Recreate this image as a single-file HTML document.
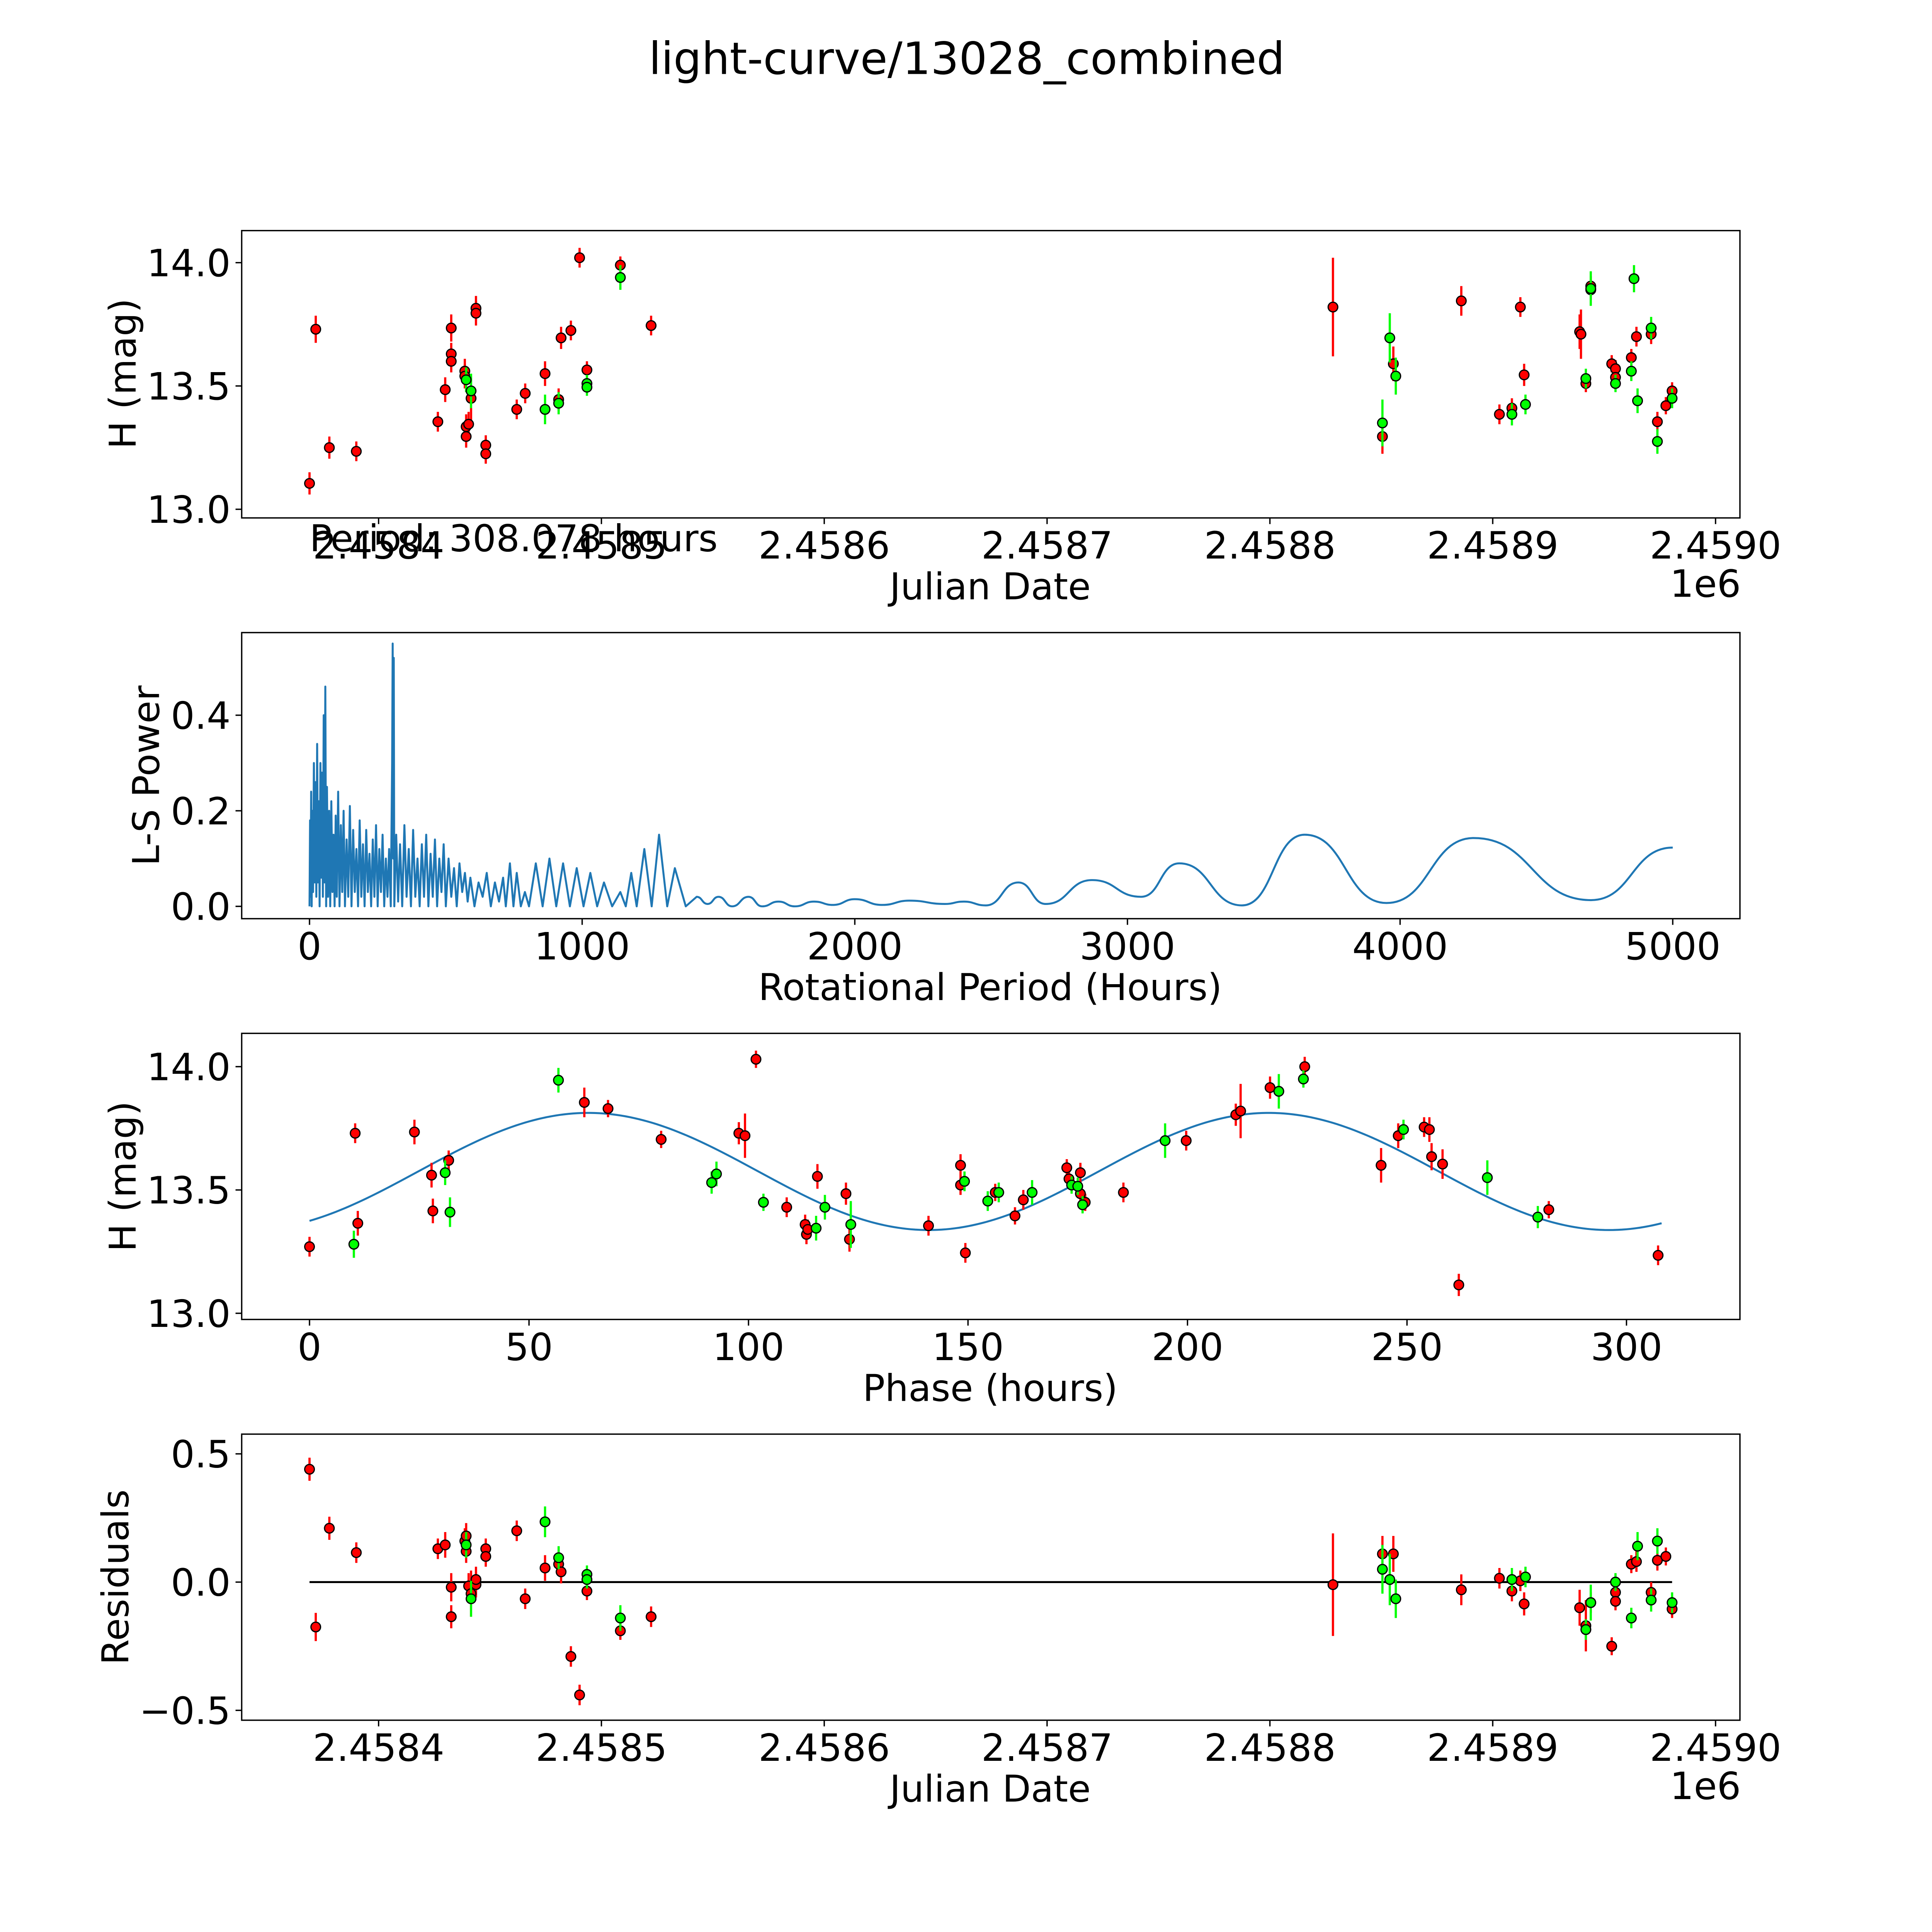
<!DOCTYPE html>
<html><head><meta charset="utf-8"><style>
html,body{margin:0;padding:0;background:#fff;overflow:hidden;}
svg{display:block;position:absolute;left:0;top:0;width:5004px;height:5004px;font-family:"DejaVu Sans","Liberation Sans",sans-serif;}
</style></head><body>
<svg id="fig" xmlns="http://www.w3.org/2000/svg" width="5004" height="5004" viewBox="0 0 1568 1568" preserveAspectRatio="none">
<rect width="1568" height="1568" fill="#fff"/>
<text x="784" y="60" font-size="36" text-anchor="middle">light-curve/13028_combined</text>
</svg>
<script>
// ---------- DATA ----------
const JD0 = 2458369;
// panel 1: [day offset from JD0, mag, err]
const lcRed = [[0,13.105,0.045],[2.8,13.73,0.055],[8.9,13.25,0.045],[21.0,13.235,0.04],[57.6,13.355,0.04],[60.9,13.485,0.05],[63.6,13.735,0.055],[63.6,13.63,0.045],[63.6,13.6,0.045],[69.7,13.56,0.05],[69.7,13.54,0.05],[70.3,13.335,0.05],[70.3,13.295,0.045],[71.4,13.345,0.05],[72.5,13.45,0.09],[74.7,13.815,0.05],[74.7,13.795,0.05],[79.1,13.26,0.04],[79.1,13.225,0.04],[93.0,13.405,0.04],[96.8,13.47,0.04],[105.7,13.55,0.05],[111.8,13.445,0.045],[112.9,13.695,0.045],[117.3,13.725,0.04],[121.2,14.02,0.04],[124.5,13.565,0.035],[139.5,13.99,0.035],[153.3,13.745,0.04],
[459.3,13.82,0.2],[481.5,13.295,0.07],[486.4,13.59,0.07],[516.9,13.845,0.06],[534.0,13.385,0.04],[539.6,13.41,0.04],[543.4,13.82,0.04],[545.1,13.545,0.045],[570.0,13.72,0.07],[570.6,13.71,0.1],[572.8,13.51,0.035],[575.0,13.905,0.04],[575.0,13.89,0.04],[584.4,13.59,0.035],[586.1,13.57,0.035],[586.1,13.535,0.035],[593.2,13.615,0.035],[595.5,13.7,0.04],[602.1,13.71,0.04],[604.9,13.355,0.04],[608.7,13.42,0.035],[611.5,13.48,0.035]];
const lcGreen = [[70.3,13.525,0.05],[72.5,13.48,0.07],[105.7,13.405,0.06],[111.8,13.43,0.045],[124.5,13.51,0.035],[124.5,13.495,0.035],[139.5,13.94,0.05],[481.5,13.35,0.095],[484.8,13.695,0.1],[487.5,13.54,0.075],[539.6,13.385,0.045],[545.7,13.425,0.04],[572.8,13.53,0.04],[575.0,13.895,0.07],[586.1,13.51,0.035],[593.2,13.56,0.04],[594.4,13.935,0.055],[596.0,13.44,0.05],[602.1,13.735,0.045],[604.9,13.275,0.05],[611.5,13.45,0.04]];
// panel 2: periodogram
const lsPeriod = [0,2,4,6,8,10,13,16,19,22,25,28,31,34,37,40,43,46,49,52,55,58,61,64,68,72,76,80,84,88,92,96,100,105,110,115,120,125,130,136,142,148,154,160,166,172,178,184,190,196,202,208,214,220,226,232,238,244,250,256,262,268,274,280,286,292,298,303,305,307,309,311,318,325,332,340,348,356,364,372,380,388,396,404,412,420,428,436,444,452,460,468,476,484,492,500,510,520,530,540,550,560,570,580,590,605,620,635,650,665,680,695,710,720,735,748,760,775,790,805,830,855,880,905,930,955,980,1005,1030,1055,1080,1110,1140,1160,1180,1200,1228,1255,1282,1312,1340,1380,1420];
const lsPower = [0,0.18,0.02,0.24,0.0,0.2,0.03,0.3,0.05,0.26,0.02,0.34,0.05,0.22,0.0,0.3,0.06,0.28,0.02,0.4,0.05,0.46,0.0,0.25,0.02,0.2,0.0,0.22,0.03,0.15,0.0,0.19,0.02,0.24,0.0,0.17,0.03,0.2,0.0,0.14,0.02,0.21,0.0,0.16,0.03,0.12,0.0,0.18,0.02,0.13,0.0,0.16,0.03,0.11,0.0,0.14,0.02,0.17,0.0,0.12,0.03,0.15,0.0,0.1,0.02,0.12,0.0,0.3,0.55,0.1,0.52,0.0,0.15,0.01,0.13,0.0,0.17,0.02,0.12,0.0,0.16,0.02,0.1,0.0,0.13,0.02,0.15,0.0,0.11,0.02,0.14,0.0,0.1,0.03,0.13,0.0,0.1,0.02,0.08,0.0,0.09,0.03,0.07,0.01,0.06,0.0,0.05,0.02,0.07,0.0,0.05,0.01,0.06,0.0,0.09,0.0,0.07,0.0,0.03,0.0,0.09,0.0,0.1,0.0,0.09,0.0,0.08,0.0,0.07,0.0,0.05,0.0,0.03,0.0,0.07,0.0,0.12,0.0,0.15,0.0,0.08,0.0,0.02];
const lsSmoothPeriod = [1420,1460,1500,1550,1610,1660,1720,1780,1850,1920,2000,2100,2200,2330,2400,2480,2600,2700,2870,3050,3190,3420,3650,3950,4270,4700,5000];
const lsSmoothPower = [0.02,0.005,0.02,0.0,0.02,0.0,0.01,0.0,0.01,0.003,0.015,0.003,0.012,0.005,0.01,0.002,0.05,0.005,0.055,0.02,0.09,0.002,0.15,0.007,0.143,0.013,0.123];
// panel 3: [phase hours, mag, err]
const phRed = [[0,13.27,0.04],[10.4,13.73,0.04],[11.0,13.365,0.05],[23.9,13.735,0.05],[27.8,13.56,0.05],[28.1,13.415,0.05],[31.7,13.62,0.04],[62.6,13.855,0.06],[68.0,13.83,0.035],[80.1,13.705,0.035],[97.8,13.73,0.045],[99.2,13.72,0.09],[101.7,14.03,0.035],[108.7,13.43,0.04],[112.9,13.36,0.04],[113.2,13.32,0.04],[113.5,13.34,0.04],[115.7,13.555,0.05],[122.2,13.485,0.045],[123.0,13.3,0.05],[141.0,13.355,0.04],[148.3,13.6,0.045],[148.3,13.52,0.04],[149.4,13.245,0.04],[156.2,13.49,0.035],[160.7,13.395,0.035],[162.6,13.46,0.04],[172.5,13.59,0.035],[173.0,13.545,0.035],[175.6,13.57,0.04],[175.6,13.485,0.035],[176.7,13.45,0.035],[185.4,13.49,0.04],[199.7,13.7,0.04],[211.0,13.805,0.045],[212.1,13.82,0.11],[218.8,13.915,0.045],[226.7,14.0,0.04],[244.1,13.6,0.07],[248.0,13.72,0.05],[253.9,13.755,0.04],[255.1,13.745,0.05],[255.6,13.635,0.055],[258.1,13.605,0.06],[261.8,13.115,0.045],[282.3,13.42,0.035],[307.2,13.235,0.04]];
const phGreen = [[10.1,13.28,0.055],[30.9,13.57,0.05],[32.0,13.41,0.06],[56.7,13.945,0.05],[91.6,13.53,0.045],[92.7,13.565,0.05],[103.4,13.45,0.035],[115.4,13.345,0.05],[117.4,13.43,0.05],[123.3,13.36,0.095],[149.2,13.535,0.04],[154.5,13.455,0.04],[157.0,13.49,0.04],[164.6,13.49,0.05],[173.6,13.52,0.035],[175.0,13.515,0.035],[176.1,13.44,0.035],[194.9,13.7,0.07],[220.8,13.9,0.07],[226.4,13.95,0.035],[249.2,13.745,0.04],[268.3,13.55,0.07],[279.8,13.39,0.045]];
const fitMean = 13.575, fitAmp = 0.2375, fitPeak = 63.5, fitHalfPeriod = 155, fitMaxPhase = 308.078;
// panel 4: [day offset, residual, err]
const resRed = [[0,0.44,0.045],[2.8,-0.175,0.055],[8.9,0.21,0.045],[21.0,0.115,0.04],[57.6,0.13,0.04],[60.9,0.145,0.05],[63.6,-0.02,0.055],[63.6,-0.135,0.045],[69.7,0.16,0.05],[70.3,0.18,0.05],[70.3,0.12,0.045],[71.4,-0.015,0.05],[72.5,-0.045,0.09],[74.7,-0.01,0.05],[74.7,0.01,0.05],[79.1,0.13,0.04],[79.1,0.1,0.04],[93.0,0.2,0.04],[96.8,-0.065,0.04],[105.7,0.055,0.05],[111.8,0.07,0.045],[112.9,0.04,0.045],[117.3,-0.29,0.04],[121.2,-0.44,0.04],[124.5,-0.035,0.035],[139.5,-0.19,0.035],[153.3,-0.135,0.04],
[459.3,-0.01,0.2],[481.5,0.11,0.07],[486.4,0.11,0.07],[516.9,-0.03,0.06],[534.0,0.015,0.04],[539.6,-0.035,0.04],[543.4,0.005,0.04],[545.1,-0.085,0.045],[570.0,-0.1,0.07],[572.8,-0.17,0.1],[572.8,-0.185,0.035],[575.0,-0.08,0.04],[584.4,-0.25,0.035],[586.1,-0.04,0.035],[586.1,-0.075,0.035],[593.2,0.07,0.035],[595.5,0.08,0.04],[602.1,-0.04,0.04],[604.9,0.085,0.04],[608.7,0.1,0.035],[611.5,-0.105,0.035]];
const resGreen = [[70.3,0.145,0.05],[72.5,-0.065,0.07],[105.7,0.235,0.06],[111.8,0.095,0.045],[124.5,0.03,0.035],[124.5,0.01,0.035],[139.5,-0.14,0.05],[481.5,0.05,0.095],[484.8,0.01,0.1],[487.5,-0.065,0.075],[539.6,0.01,0.045],[545.7,0.02,0.04],[572.8,-0.185,0.04],[575.0,-0.08,0.07],[586.1,0.0,0.035],[593.2,-0.14,0.04],[596.0,0.14,0.055],[602.1,-0.07,0.045],[604.9,0.16,0.05],[611.5,-0.08,0.04]];
const jdTicks = [2458400,2458500,2458600,2458700,2458800,2458900,2459000];
const jdTickLabels = ["2.4584","2.4585","2.4586","2.4587","2.4588","2.4589","2.4590"];
const magTicks = [13.0,13.5,14.0];
const magTickLabels = ["13.0","13.5","14.0"];
const lsXTicks = [0,1000,2000,3000,4000,5000];
const lsYTicks = [0,0.2,0.4];
const lsYTickLabels = ["0.0","0.2","0.4"];
const phTicks = [0,50,100,150,200,250,300];
const resTicks = [-0.5,0,0.5];
const resTickLabels = ["\u22120.5","0.0","0.5"];

// ---------- SCALES ----------
const xJD = d => 251 + d*1.807;
const xJDabs = jd => xJD(jd - JD0);
const y1 = m => 313 - (m-13.5)*200;
const xLS = p => 251 + p*0.2211;
const yLS = v => 735 - v*387.5;
const xPh = p => 251 + p*3.56;
const y3 = m => 965 - (m-13.5)*200;
const y4 = r => 1283 - r*208;

const TICK_FS = 30.5, LABEL_FS = 30;
const NS = "http://www.w3.org/2000/svg";
const svg = document.getElementById('fig');
function el(tag, attrs, parent){
  const e = document.createElementNS(NS, tag);
  for (const k in attrs) e.setAttribute(k, attrs[k]);
  (parent||svg).appendChild(e);
  return e;
}
function txt(s, attrs, name, parent){
  const t = el('text', attrs, parent);
  t.textContent = s;
  
  
  return t;
}

function panel(name, x0, y0, x1, y1p){
  const g = el('g', {});
  
  
  const r = el('rect', {x:x0, y:y0, width:x1-x0, height:y1p-y0, fill:'none', stroke:'#000', 'stroke-width':1.1}, g);
  
  
  return g;
}
function xTicks(g, vals, labels, fx, yb, name){
  vals.forEach((v,i)=>{
    const x = fx(v);
    const l = el('line', {x1:x, x2:x, y1:yb, y2:yb+5, stroke:'#000', 'stroke-width':1.1}, g);
    
    
    txt(labels[i], {x:x, y:yb+33, 'font-size':TICK_FS, 'text-anchor':'middle'}, name + '-tick-label', g);
  });
}
function yTicks(g, vals, labels, fy, xl, name){
  vals.forEach((v,i)=>{
    const y = fy(v);
    const l = el('line', {x1:xl-5, x2:xl, y1:y, y2:y, stroke:'#000', 'stroke-width':1.1}, g);
    
    
    txt(labels[i], {x:xl-9, y:y+11, 'font-size':TICK_FS, 'text-anchor':'end'}, name + '-tick-label', g);
  });
}
function points(g, data, fx, fy, color, name, errScale){
  data.forEach(d=>{
    const x = fx(d[0]), y = fy(d[1]);
    const e = d[2]*errScale;
    const l = el('line', {x1:x, x2:x, y1:y-e, y2:y+e, stroke:color, 'stroke-width':1.8}, g);
    
    
  });
  data.forEach(d=>{
    const c = el('circle', {cx:fx(d[0]), cy:fy(d[1]), r:3.9, fill:color, stroke:'#000', 'stroke-width':1}, g);
    
    
  });
}

// ---------- PANEL 1 ----------
const g1 = panel('light-curve-panel', 196, 187, 1411, 420);
xTicks(g1, jdTicks, jdTickLabels, xJDabs, 420, 'lc-x');
yTicks(g1, magTicks, magTickLabels, y1, 196, 'lc-y');
points(g1, lcRed, xJD, y1, '#ff0000', 'lc-red', 200);
points(g1, lcGreen, xJD, y1, '#00ff00', 'lc-green', 200);
txt('Julian Date', {x:803, y:486, 'font-size':LABEL_FS, 'text-anchor':'middle'}, 'lc-x-axis-title', g1);
txt('1e6', {x:1383, y:484, 'font-size':TICK_FS, 'text-anchor':'middle'}, 'lc-x-offset-label', g1);
txt('H (mag)', {x:0, y:0, 'font-size':LABEL_FS, 'text-anchor':'middle', transform:'translate(110,303) rotate(-90)'}, 'lc-y-axis-title', g1);
txt('Period: 308.078 hours', {x:251, y:447, 'font-size':30}, 'period-annotation', g1);

// ---------- PANEL 2 ----------
const g2 = panel('periodogram-panel', 196, 513, 1411, 745);
xTicks(g2, lsXTicks, lsXTicks.map(String), xLS, 745, 'ls-x');
yTicks(g2, lsYTicks, lsYTickLabels, yLS, 196, 'ls-y');
let d = '';
lsPeriod.forEach((p,i)=>{ d += (i?'L':'M') + xLS(p).toFixed(2) + ',' + yLS(lsPower[i]).toFixed(2); });
for (let i=1;i<lsSmoothPeriod.length;i++){
  const xa = xLS(lsSmoothPeriod[i-1]), ya = yLS(lsSmoothPower[i-1]);
  const xb = xLS(lsSmoothPeriod[i]), yb = yLS(lsSmoothPower[i]);
  const xm = (xa+xb)/2;
  d += 'C' + xm.toFixed(2) + ',' + ya.toFixed(2) + ' ' + xm.toFixed(2) + ',' + yb.toFixed(2) + ' ' + xb.toFixed(2) + ',' + yb.toFixed(2);
}
const lsLine = el('path', {d:d, fill:'none', stroke:'#1f77b4', 'stroke-width':1.6, 'stroke-linejoin':'round'}, g2);


txt('Rotational Period (Hours)', {x:803, y:811, 'font-size':LABEL_FS, 'text-anchor':'middle'}, 'ls-x-axis-title', g2);
txt('L-S Power', {x:0, y:0, 'font-size':LABEL_FS, 'text-anchor':'middle', transform:'translate(129,629) rotate(-90)'}, 'ls-y-axis-title', g2);

// ---------- PANEL 3 ----------
const g3 = panel('phase-panel', 196, 838, 1411, 1070);
xTicks(g3, phTicks, phTicks.map(String), xPh, 1070, 'ph-x');
yTicks(g3, magTicks, magTickLabels, y3, 196, 'ph-y');
let fd = '';
for (let p=0; p<=fitMaxPhase; p+=1){
  const m = fitMean + fitAmp*Math.cos(2*Math.PI*(p-fitPeak)/fitHalfPeriod);
  fd += (p?'L':'M') + xPh(p).toFixed(2) + ',' + y3(m).toFixed(2);
}
const fit = el('path', {d:fd, fill:'none', stroke:'#1f77b4', 'stroke-width':1.6}, g3);


points(g3, phRed, xPh, y3, '#ff0000', 'ph-red', 200);
points(g3, phGreen, xPh, y3, '#00ff00', 'ph-green', 200);
txt('Phase (hours)', {x:803, y:1136, 'font-size':LABEL_FS, 'text-anchor':'middle'}, 'ph-x-axis-title', g3);
txt('H (mag)', {x:0, y:0, 'font-size':LABEL_FS, 'text-anchor':'middle', transform:'translate(110,954) rotate(-90)'}, 'ph-y-axis-title', g3);

// ---------- PANEL 4 ----------
const g4 = panel('residuals-panel', 196, 1163, 1411, 1395);
xTicks(g4, jdTicks, jdTickLabels, xJDabs, 1395, 'res-x');
yTicks(g4, resTicks, resTickLabels, y4, 196, 'res-y');
const zl = el('line', {x1:xJD(0), x2:xJD(611.5), y1:y4(0), y2:y4(0), stroke:'#000', 'stroke-width':1.6}, g4);


points(g4, resRed, xJD, y4, '#ff0000', 'res-red', 208);
points(g4, resGreen, xJD, y4, '#00ff00', 'res-green', 208);
txt('Julian Date', {x:803, y:1461, 'font-size':LABEL_FS, 'text-anchor':'middle'}, 'res-x-axis-title', g4);
txt('1e6', {x:1383, y:1459, 'font-size':TICK_FS, 'text-anchor':'middle'}, 'res-x-offset-label', g4);
txt('Residuals', {x:0, y:0, 'font-size':LABEL_FS, 'text-anchor':'middle', transform:'translate(104,1279) rotate(-90)'}, 'res-y-axis-title', g4);
</script>
</body></html>
